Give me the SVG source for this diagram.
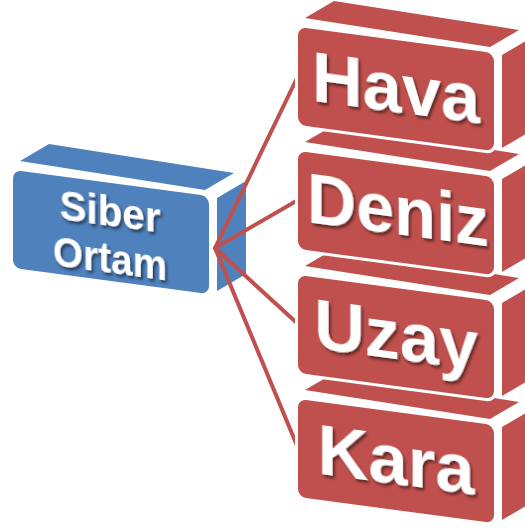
<svg xmlns="http://www.w3.org/2000/svg" width="525" height="531" viewBox="0 0 525 531">
  <defs>
    <filter id="txtShadow" x="-10%" y="-10%" width="130%" height="140%">
      <feDropShadow dx="2" dy="2.5" stdDeviation="1.4" flood-color="#000" flood-opacity="0.55"/>
    </filter>
    <!-- one cuboid: top face, side face, skewed front face -->
    <g id="cube">
      <polygon class="face" points="7,-9 192,20 221,3 36,-26"/>
      <polygon class="face" points="204,28 233,11 233,104 204,121"/>
      <rect class="face" x="0" y="0" width="196" height="98" rx="8" transform="skewY(7.6)"/>
    </g>
  </defs>
  <style>
    .face { stroke: #ffffff; stroke-width: 6; stroke-linejoin: round; paint-order: stroke; }
    .blue { fill: #4F81BD; }
    .red { fill: #C0504D; }
    .label { fill: #ffffff; font-family: "Liberation Sans", Arial, sans-serif; font-weight: bold; text-anchor: middle; filter: url(#txtShadow); }
    .big { font-size: 71px; }
    .small { font-size: 42px; }
    .link { stroke: #C0504D; stroke-width: 4; fill: none; stroke-linecap: round; }
  </style>

  <rect width="525" height="531" fill="#ffffff"/>

  <g id="siber-ortam" class="blue" transform="translate(13,170)">
    <use href="#cube"/>
    <g transform="skewY(7.6)">
      <text class="label small" x="97" y="43.5" textLength="101" lengthAdjust="spacingAndGlyphs">Siber</text>
      <text class="label small" x="97" y="90.5" textLength="114" lengthAdjust="spacingAndGlyphs">Ortam</text>
    </g>
  </g>

  <g id="connectors">
    <line class="link" x1="215" y1="248" x2="298" y2="76"/>
    <line class="link" x1="215" y1="248" x2="298" y2="200"/>
    <line class="link" x1="215" y1="248" x2="298" y2="324"/>
    <line class="link" x1="215" y1="248" x2="298" y2="448"/>
  </g>

  <g id="kara" class="red" transform="translate(298,399)">
    <use href="#cube"/>
    <g transform="skewY(7.6)">
      <text class="label big" x="98" y="72" textLength="157" lengthAdjust="spacingAndGlyphs">Kara</text>
    </g>
  </g>

  <g id="uzay" class="red" transform="translate(298,275)">
    <use href="#cube"/>
    <g transform="skewY(7.6)">
      <text class="label big" x="98" y="71" textLength="164" lengthAdjust="spacingAndGlyphs">Uzay</text>
    </g>
  </g>

  <g id="deniz" class="red" transform="translate(298,151)">
    <use href="#cube"/>
    <g transform="skewY(7.6)">
      <text class="label big" x="100" y="70" textLength="182" lengthAdjust="spacingAndGlyphs">Deniz</text>
    </g>
  </g>

  <g id="hava" class="red" transform="translate(298,27)">
    <use href="#cube"/>
    <g transform="skewY(7.6)">
      <text class="label big" x="98" y="72" textLength="168" lengthAdjust="spacingAndGlyphs">Hava</text>
    </g>
  </g>
</svg>
